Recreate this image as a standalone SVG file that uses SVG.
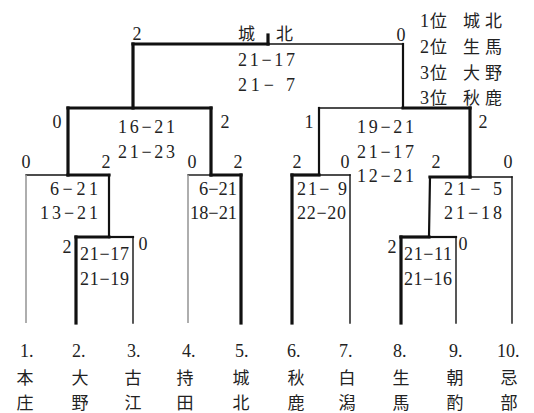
<svg xmlns="http://www.w3.org/2000/svg" width="534" height="413" viewBox="0 0 534 413">
<style>
.bg{fill:#ffffff}
.k{stroke:#111;fill:none;stroke-linecap:square}
.t3{stroke-width:3.2}
.t2{stroke-width:2.2}
.t1{stroke-width:1.4}
.g{stroke:#9a9a9a;stroke-width:1.6;fill:none}
.s{font-family:'Liberation Serif',serif;font-size:18px;fill:#222}
.sc{font-family:'Liberation Serif',serif;font-size:18px;fill:#222;text-anchor:middle}
.j{font-family:'Noto Sans CJK JP','Noto Sans CJK SC',sans-serif;font-size:17px;fill:#222}
.jm{font-family:'Noto Sans CJK JP','Noto Sans CJK SC',sans-serif;font-size:17px;fill:#222;text-anchor:middle}
</style>
<rect class="bg" x="0" y="0" width="534" height="413"/>

<g id="connectors">
  <line class="k t3" x1="133" y1="44" x2="268" y2="44"/>
  <line class="k t1" x1="268" y1="44" x2="403" y2="44"/>
  <line class="k t3" x1="268" y1="35" x2="268" y2="44"/>
  <line class="k t3" x1="133" y1="44" x2="133" y2="108"/>
  <line class="k t2" x1="403" y1="44" x2="403" y2="108"/>
  <line class="k t3" x1="68" y1="108" x2="211" y2="108"/>
  <line class="k t3" x1="68" y1="108" x2="68" y2="175"/>
  <line class="k t3" x1="211" y1="108" x2="211" y2="175"/>
  <line class="k t1" x1="26" y1="175" x2="68" y2="175"/>
  <line class="k t3" x1="68" y1="175" x2="109" y2="175"/>
  <line class="g" x1="26" y1="175" x2="26" y2="323"/>
  <line class="k t2" x1="109" y1="175" x2="109" y2="237"/>
  <line class="k t3" x1="76" y1="237" x2="109" y2="237"/>
  <line class="k t2" x1="109" y1="237" x2="133" y2="237"/>
  <line class="k t3" x1="76" y1="237" x2="76" y2="323"/>
  <line class="k t1" x1="133" y1="237" x2="133" y2="323"/>
  <line class="k t1" x1="188" y1="175" x2="211" y2="175"/>
  <line class="k t3" x1="211" y1="175" x2="241" y2="175"/>
  <line class="g" x1="188" y1="175" x2="188" y2="323"/>
  <line class="k t3" x1="241" y1="175" x2="241" y2="323"/>
  <line class="k t1" x1="319" y1="108" x2="403" y2="108"/>
  <line class="k t3" x1="403" y1="108" x2="470" y2="108"/>
  <line class="k t2" x1="319" y1="108" x2="319" y2="175"/>
  <line class="k t3" x1="470" y1="108" x2="470" y2="177"/>
  <line class="k t3" x1="292" y1="175" x2="319" y2="175"/>
  <line class="k t1" x1="319" y1="175" x2="350" y2="175"/>
  <line class="k t3" x1="292" y1="175" x2="292" y2="323"/>
  <line class="k t1" x1="350" y1="175" x2="350" y2="323"/>
  <line class="k t3" x1="430" y1="177" x2="470" y2="177"/>
  <line class="k t1" x1="470" y1="177" x2="512" y2="177"/>
  <line class="k t2" x1="430" y1="177" x2="429" y2="237"/>
  <line class="k t1" x1="512" y1="177" x2="512" y2="323"/>
  <line class="k t3" x1="401" y1="237" x2="429" y2="237"/>
  <line class="k t2" x1="429" y1="237" x2="456" y2="237"/>
  <line class="k t3" x1="401" y1="237" x2="401" y2="323"/>
  <line class="k t1" x1="456" y1="237" x2="456" y2="323"/>
</g>

<g id="match-final">
  <text class="sc" x="137" y="40">2</text>
  <text class="sc" x="401" y="41">0</text>
  <text class="j" x="238" y="40">城</text>
  <text class="j" x="276" y="40">北</text>
  <text class="s" x="238" y="66" textLength="57" lengthAdjust="spacing">21−17</text>
  <text class="s" x="238" y="91" textLength="57" lengthAdjust="spacing">21− 7</text>
</g>

<g id="match-semi-left">
  <text class="sc" x="57" y="128">0</text>
  <text class="sc" x="225" y="128">2</text>
  <text class="s" x="118" y="133" textLength="57" lengthAdjust="spacing">16−21</text>
  <text class="s" x="118" y="158" textLength="57" lengthAdjust="spacing">21−23</text>
</g>

<g id="match-1-23">
  <text class="sc" x="26" y="168">0</text>
  <text class="sc" x="106" y="168">2</text>
  <text class="s" x="50" y="195" textLength="48" lengthAdjust="spacing">6−21</text>
  <text class="s" x="40" y="219" textLength="58" lengthAdjust="spacing">13−21</text>
</g>

<g id="match-2-3">
  <text class="sc" x="67" y="253">2</text>
  <text class="sc" x="143" y="250">0</text>
  <text class="s" x="80" y="260" textLength="49" lengthAdjust="spacing">21−17</text>
  <text class="s" x="80" y="285" textLength="49" lengthAdjust="spacing">21−19</text>
</g>

<g id="match-4-5">
  <text class="sc" x="192" y="168">0</text>
  <text class="sc" x="238" y="168">2</text>
  <text class="s" x="199" y="195" textLength="38" lengthAdjust="spacingAndGlyphs">6−21</text>
  <text class="s" x="190" y="219" textLength="47" lengthAdjust="spacingAndGlyphs">18−21</text>
</g>

<g id="match-semi-right">
  <text class="sc" x="309" y="128">1</text>
  <text class="sc" x="483" y="128">2</text>
  <text class="s" x="357" y="133" textLength="57" lengthAdjust="spacing">19−21</text>
  <text class="s" x="357" y="158" textLength="57" lengthAdjust="spacing">21−17</text>
  <text class="s" x="357" y="182" textLength="57" lengthAdjust="spacing">12−21</text>
</g>

<g id="match-6-7">
  <text class="sc" x="297" y="168">2</text>
  <text class="sc" x="345" y="168" fill="#555">0</text>
  <text class="s" x="297" y="195" textLength="50" lengthAdjust="spacing">21− 9</text>
  <text class="s" x="297" y="219" textLength="49" lengthAdjust="spacing">22−20</text>
</g>

<g id="match-89-10">
  <text class="sc" x="436" y="168">2</text>
  <text class="sc" x="508" y="168" fill="#555">0</text>
  <text class="s" x="444" y="195" textLength="58" lengthAdjust="spacing">21− 5</text>
  <text class="s" x="444" y="219" textLength="58" lengthAdjust="spacing">21−18</text>
</g>

<g id="match-8-9">
  <text class="sc" x="392" y="253">2</text>
  <text class="sc" x="463" y="250">0</text>
  <text class="s" x="404" y="260" textLength="48" lengthAdjust="spacing">21−11</text>
  <text class="s" x="404" y="285" textLength="48" lengthAdjust="spacing">21−16</text>
</g>

<g id="legend">
  <text class="s" x="420" y="27">1</text><text class="j" x="430" y="27">位</text><text class="j" x="463" y="27" textLength="39" lengthAdjust="spacing">城北</text>
  <text class="s" x="420" y="53">2</text><text class="j" x="430" y="53">位</text><text class="j" x="463" y="53" textLength="39" lengthAdjust="spacing">生馬</text>
  <text class="s" x="420" y="79">3</text><text class="j" x="430" y="79">位</text><text class="j" x="463" y="79" textLength="39" lengthAdjust="spacing">大野</text>
  <text class="s" x="420" y="104">3</text><text class="j" x="430" y="104">位</text><text class="j" x="463" y="104" textLength="39" lengthAdjust="spacing">秋鹿</text>
</g>

<g id="team-1"><text class="s" x="20" y="357">1.</text><text class="jm" x="25" y="384">本</text><text class="jm" x="25" y="409">庄</text></g>
<g id="team-2"><text class="s" x="72" y="357">2.</text><text class="jm" x="80" y="384">大</text><text class="jm" x="80" y="409">野</text></g>
<g id="team-3"><text class="s" x="127" y="357">3.</text><text class="jm" x="133" y="384">古</text><text class="jm" x="133" y="409">江</text></g>
<g id="team-4"><text class="s" x="182" y="357">4.</text><text class="jm" x="185" y="384">持</text><text class="jm" x="185" y="409">田</text></g>
<g id="team-5"><text class="s" x="235" y="357">5.</text><text class="jm" x="241" y="384">城</text><text class="jm" x="241" y="409">北</text></g>
<g id="team-6"><text class="s" x="287" y="357">6.</text><text class="jm" x="296" y="384">秋</text><text class="jm" x="296" y="409">鹿</text></g>
<g id="team-7"><text class="s" x="339" y="357">7.</text><text class="jm" x="347" y="384">白</text><text class="jm" x="347" y="409">潟</text></g>
<g id="team-8"><text class="s" x="393" y="357">8.</text><text class="jm" x="401" y="384">生</text><text class="jm" x="401" y="409">馬</text></g>
<g id="team-9"><text class="s" x="449" y="357">9.</text><text class="jm" x="455" y="384">朝</text><text class="jm" x="455" y="409">酌</text></g>
<g id="team-10"><text class="s" x="497" y="357">10.</text><text class="jm" x="509" y="384">忌</text><text class="jm" x="509" y="409">部</text></g>
</svg>
